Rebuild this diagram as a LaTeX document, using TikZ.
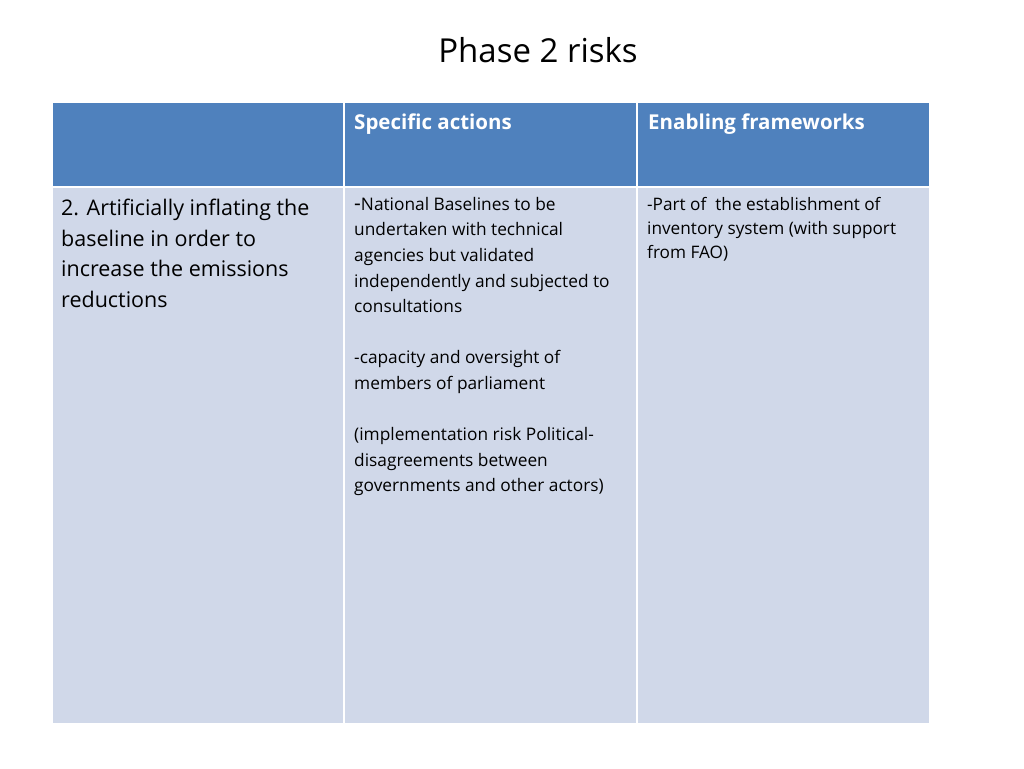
\documentclass[tikz,border=0pt]{standalone}
\usepackage{fontspec}
\setmainfont{Open Sans}
\definecolor{hdr}{HTML}{4F81BD}
\definecolor{bdy}{HTML}{D0D8E9}
\begin{document}
\begin{tikzpicture}[x=1pt,y=-1pt,
  cell/.style={draw=white,line width=2pt},
  txt/.style={anchor=north west,align=left,inner sep=0pt}]
\useasboundingbox (0,0) rectangle (1024,768);
\node[anchor=center,font=\fontsize{33}{38}\selectfont] (title) at (538,50) {Phase 2 risks};
\fill[hdr,cell] (52,102) rectangle (344,187);
\fill[hdr,cell] (344,102) rectangle (637,187);
\fill[hdr,cell] (637,102) rectangle (930,187);
\fill[bdy,cell] (52,187) rectangle (344,724);
\fill[bdy,cell] (344,187) rectangle (637,724);
\fill[bdy,cell] (637,187) rectangle (930,724);
\draw[white,line width=2pt] (52,102) rectangle (930,724) (344,102)--(344,724) (637,102)--(637,724) (52,187)--(930,187);
\node[txt,text=white,font=\bfseries\fontsize{20.5}{26}\selectfont] (h2) at (354,114) {Specific actions};
\node[txt,text=white,font=\bfseries\fontsize{20.5}{26}\selectfont] (h3) at (648,114) {Enabling frameworks};
\node[txt,font=\fontsize{21.5}{30.5}\selectfont] (c1) at (61,199) {2. Artificially inflating the\\baseline in order to\\increase the emissions\\reductions};
\node[txt,font=\fontsize{17.3}{25.6}\selectfont] (c2) at (354,197) {{\fontsize{21}{25}\selectfont -}National Baselines to be\\undertaken with technical\\agencies but validated\\independently and subjected to\\consultations\\[25.6pt]-capacity and oversight of\\members of parliament\\[25.6pt](implementation risk Political-\\disagreements between\\governments and other actors)};
\node[txt,font=\fontsize{17.2}{24}\selectfont] (c3) at (647,197) {-Part of~ the establishment of\\inventory system (with support\\from FAO)};
\end{tikzpicture}
\end{document}
